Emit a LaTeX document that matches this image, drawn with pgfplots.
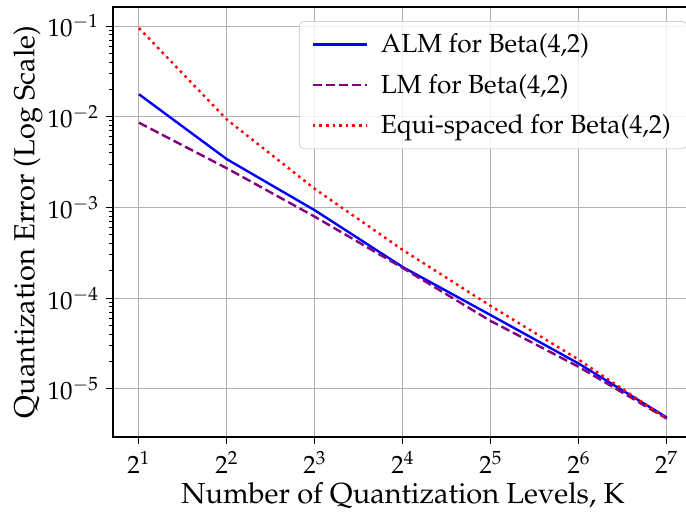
\documentclass[border=0pt]{standalone}
\usepackage[T1]{fontenc}
\usepackage{mathpazo}
\usepackage{pgfplots}
\pgfplotsset{compat=1.18}
\definecolor{lmpurple}{RGB}{128,0,128}
\definecolor{gridgray}{RGB}{176,176,176}
\begin{document}
\begin{tikzpicture}
\begin{axis}[
  width=290pt, height=215pt, scale only axis,
  xmode=log, ymode=log, log basis x=2,
  xmin={2^0.705}, xmax={2^7.3},
  ymin={10^-5.53}, ymax={10^-0.79},
  xtick={2,4,8,16,32,64,128},
  ytick={1e-5,1e-4,1e-3,1e-2,1e-1},
  tick align=outside, xtick pos=left, ytick pos=left,
  major tick length=3.5pt, minor tick length=2pt,
  grid=major, major grid style={gridgray, line width=0.5pt},
  axis line style={line width=0.8pt},
  every tick/.style={black, line width=0.5pt},
  tick label style={font=\fontsize{12.5}{14}\selectfont},
  xlabel={Number of Quantization Levels, K},
  ylabel={Quantization Error (Log Scale)},
  label style={font=\fontsize{14.5}{17}\selectfont},
  xlabel style={at={(axis description cs:0.5,-0.1535)}, anchor=base},
  ylabel style={at={(axis description cs:-0.1466,0.5)}, anchor=center},
  legend style={at={(rel axis cs:0.99,0.967)}, anchor=north east,
    draw=gray!35, rounded corners=2pt, fill=white, fill opacity=0.8, text opacity=1,
    font=\fontsize{13.1}{15}\selectfont, row sep=5.3pt, column sep=4.5pt,
    inner xsep=6pt, inner ysep=4pt},
  legend cell align=left,
  legend image code/.code={\draw[#1] (0pt,0pt) -- (27pt,0pt);},
]
\addplot[blue, line width=1.2pt] coordinates {
 (2,0.0177) (4,0.0034) (8,9.3e-4) (16,2.2e-4) (32,6.5e-5) (64,1.9e-5) (128,4.85e-6)};
\addlegendentry{ALM for Beta(4,2)}
\addplot[lmpurple, line width=1.2pt, dash pattern=on 4.5pt off 2pt] coordinates {
 (2,0.0086) (4,0.0027) (8,7.9e-4) (16,2.15e-4) (32,5.6e-5) (64,1.75e-5) (128,4.7e-6)};
\addlegendentry{LM for Beta(4,2)}
\addplot[red, line width=1.2pt, dash pattern=on 1.3pt off 2pt] coordinates {
 (2,0.095) (4,0.0093) (8,0.0016) (16,3.4e-4) (32,8.2e-5) (64,2.1e-5) (128,4.7e-6)};
\addlegendentry{Equi-spaced for Beta(4,2)}
\end{axis}
\pgfresetboundingbox
\path[use as bounding box] ([xshift=-56.5pt,yshift=-37.5pt]current axis.south west) rectangle ([xshift=286.5pt,yshift=3.5pt]current axis.north west);
\end{tikzpicture}
\end{document}
